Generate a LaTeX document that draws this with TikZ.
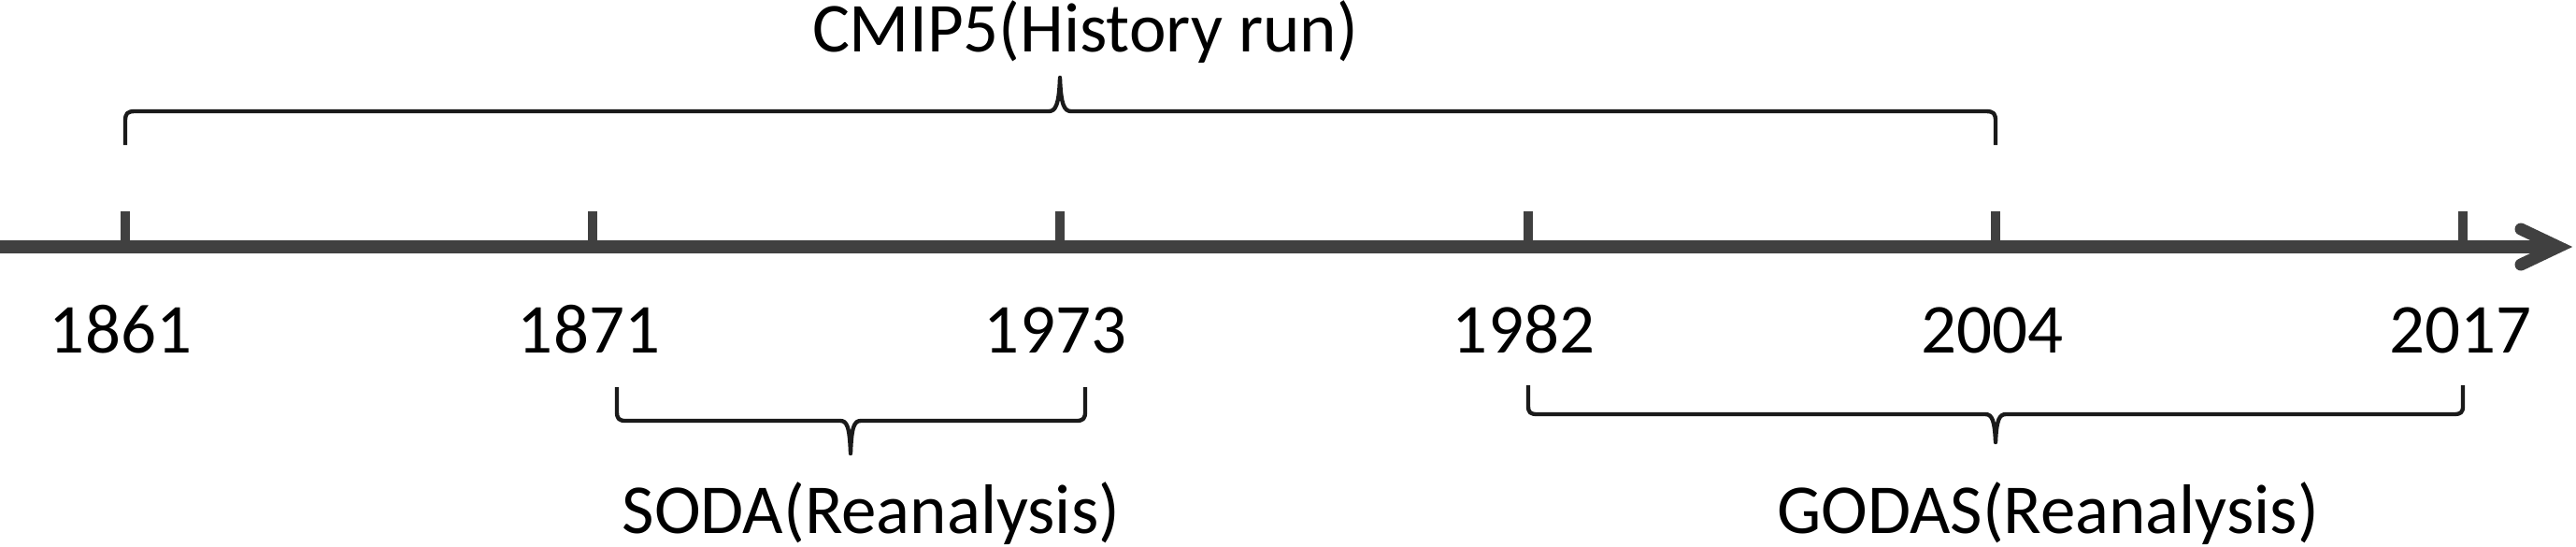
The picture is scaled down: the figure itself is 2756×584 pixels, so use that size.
\documentclass[tikz,border=0pt]{standalone}
\usepackage{fontspec}
\setmainfont{Carlito}
\definecolor{axisgray}{HTML}{404040}
\definecolor{bracecol}{HTML}{1A1A1A}
\begin{document}
\begin{tikzpicture}[x=0.3pt,y=-0.3pt,
  axisline/.style={draw=axisgray,line width=4.2pt},
  tickline/.style={draw=axisgray,line width=3pt},
  bracepath/.style={draw=bracecol,line width=1.3pt,line join=round},
  yearlabel/.style={anchor=base,inner sep=0pt,font=\fontsize{22.5}{26}\selectfont},
  titlelabel/.style={anchor=base,inner sep=0pt,font=\fontsize{22.5}{26}\selectfont}]
\useasboundingbox (0,0) rectangle (2756,584);
% axis
\coordinate (a0) at (0,264);
\coordinate (aend) at (2737,264);
\coordinate (t1) at (134,264);
\coordinate (t2) at (634,264);
\coordinate (t3) at (1134,264);
\coordinate (t4) at (1635,264);
\coordinate (t5) at (2135,264);
\coordinate (t6) at (2635,264);
\draw[axisline] (a0) -- (aend);
\draw[axisgray,line width=3.9pt,line cap=round,line join=miter,miter limit=10]
  (2697,245) -- (aend) -- (2697,283);
\foreach \t in {t1,t2,t3,t4,t5,t6}
  \draw[tickline] (\t) -- ++(0,-38);
% year labels
\node[yearlabel] (y1) at (129,377) {1861};
\node[yearlabel] (y2) at (630,377) {1871};
\node[yearlabel] (y3) at (1129,377) {1973};
\node[yearlabel] (y4) at (1630,377) {1982};
\node[yearlabel] (y5) at (2131,377) {2004};
\node[yearlabel] (y6) at (2632,377) {2017};
% CMIP5 brace (top)
\draw[bracepath] (134,155) -- (134,130) .. controls (134,121) and (136,119) .. (145,119)
  -- (1122,119) .. controls (1129,119) and (1133,113) .. (1134,83)
  .. controls (1135,113) and (1139,119) .. (1146,119)
  -- (2124,119) .. controls (2133,119) and (2135,121) .. (2135,130) -- (2135,155);
\node[titlelabel] (cmip) at (1161,55) {CMIP5(History run)};
% SODA brace (bottom)
\draw[bracepath] (660,414) -- (660,440) .. controls (660,448) and (662,450) .. (670,450)
  -- (899,450) .. controls (906,450) and (909,456) .. (910,485)
  .. controls (911,456) and (914,450) .. (921,450)
  -- (1151,450) .. controls (1159,450) and (1161,448) .. (1161,440) -- (1161,414);
\node[titlelabel] (soda) at (932,570) {SODA(Reanalysis)};
% GODAS brace (bottom)
\draw[bracepath] (1635,412) -- (1635,434) .. controls (1635,441) and (1637,443) .. (1645,443)
  -- (2124,443) .. controls (2131,443) and (2134,449) .. (2135,473)
  .. controls (2136,449) and (2139,443) .. (2146,443)
  -- (2625,443) .. controls (2633,443) and (2635,441) .. (2635,434) -- (2635,412);
\node[titlelabel] (godas) at (2191,570) {GODAS(Reanalysis)};
\end{tikzpicture}
\end{document}
